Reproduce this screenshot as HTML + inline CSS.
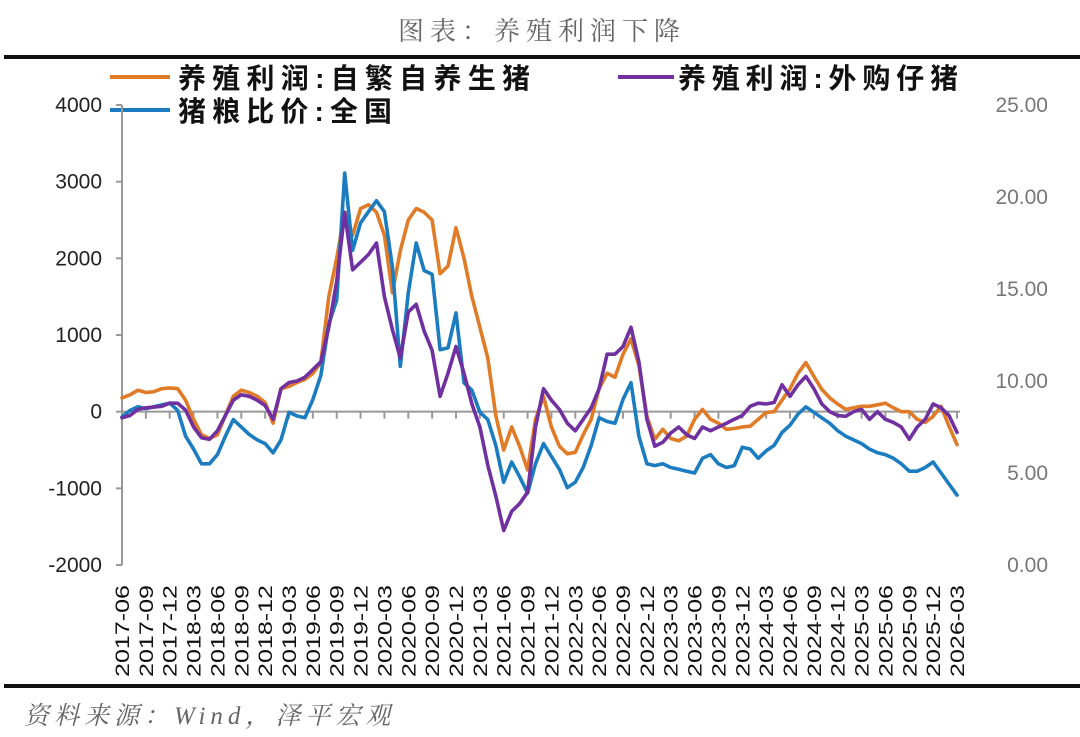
<!DOCTYPE html>
<html><head><meta charset="utf-8">
<style>
body{margin:0;background:#fff;}
svg{display:block;}
</style></head>
<body>
<svg id="chart" width="1080" height="737" viewBox="0 0 1080 737" xmlns="http://www.w3.org/2000/svg" font-family="'Liberation Sans','Noto Sans CJK SC',sans-serif">
<text x="542" y="40" text-anchor="middle" font-size="26" fill="#666" font-family="'Liberation Serif','Noto Serif CJK SC',serif" letter-spacing="6">图表：养殖利润下降</text>
<rect x="4" y="55" width="1076" height="4" fill="#111"/>
<rect x="4" y="684" width="1076" height="4" fill="#111"/>
<text x="24" y="724" font-size="25" fill="#666" font-style="italic" font-family="'Liberation Serif','Noto Serif CJK SC',serif" letter-spacing="5">资料来源：Wind，泽平宏观</text>
<g>
<line x1="110" y1="77" x2="170" y2="77" stroke="#E07B28" stroke-width="4"/>
<text x="178" y="88" font-size="28" font-weight="bold" fill="#111" textLength="352" lengthAdjust="spacing">养殖利润:自繁自养生猪</text>
<line x1="618" y1="77" x2="674" y2="77" stroke="#7030A0" stroke-width="4"/>
<text x="678" y="88" font-size="28" font-weight="bold" fill="#111" textLength="280" lengthAdjust="spacing">养殖利润:外购仔猪</text>
<line x1="110" y1="110" x2="170" y2="110" stroke="#1B7CC0" stroke-width="4"/>
<text x="178" y="121" font-size="28" font-weight="bold" fill="#111" textLength="214" lengthAdjust="spacing">猪粮比价:全国</text>
</g>
<g id="axes"></g>
<g id="series"></g>
</svg>
<script>
const startYear = 2017, startMonth = 6, nMonths = 106;
const leftTicks = [4000, 3000, 2000, 1000, 0, -1000, -2000];
const rightTicks = ["25.00", "20.00", "15.00", "10.00", "5.00", "0.00"];
const selfBred = [
180,220,280,250,260,300,310,
300,150,-100,-300,-350,-300,-50,200,280,250,200,120,
-150,300,330,380,420,500,640,1500,2000,2600,2300,2650,
2700,2600,2300,1550,2100,2500,2650,2600,2500,1800,1900,2400,
2000,1500,1100,700,-50,-500,-200,-450,-760,-100,200,-200,
-450,-550,-530,-300,-100,300,500,450,750,950,600,-60,
-360,-230,-350,-380,-320,-100,30,-100,-150,-230,-220,-200,
-190,-100,-10,0,150,300,500,640,460,290,180,100,
30,50,70,70,90,110,50,0,0,-100,-140,-60,
70,-190,-430];
const purchased = [
-80,-50,30,50,60,70,110,
110,20,-200,-340,-360,-250,-50,150,220,200,150,80,
-100,300,380,400,450,550,650,1100,1700,2600,1850,1950,
2050,2200,1500,1070,700,1300,1400,1050,800,200,500,850,
500,100,-200,-700,-1100,-1550,-1300,-1200,-1050,-200,300,150,
30,-150,-250,-100,50,300,750,750,850,1100,650,-100,
-450,-400,-280,-200,-300,-350,-200,-250,-200,-150,-100,-50,
70,110,100,120,350,200,350,460,300,100,0,-50,
-60,0,30,-100,0,-100,-140,-200,-360,-200,-100,100,
50,-50,-270];
const hogGrain = [
8.05,8.4,8.6,8.5,8.6,8.7,8.8,
8.4,7.0,6.3,5.5,5.5,6.0,7.0,7.9,7.5,7.1,6.8,6.6,
6.1,6.8,8.3,8.1,8.0,9.0,10.3,13.1,14.4,21.3,17.1,18.6,
19.2,19.8,19.2,16.2,10.8,14.8,17.5,16.0,15.8,11.7,11.8,13.7,
9.9,9.5,8.3,7.9,6.5,4.5,5.6,4.8,3.9,5.5,6.6,5.9,
5.2,4.2,4.5,5.3,6.5,8.0,7.8,7.7,9.0,9.9,7.0,5.5,
5.4,5.5,5.3,5.2,5.1,5.0,5.8,6.0,5.5,5.3,5.4,6.4,
6.3,5.8,6.2,6.5,7.2,7.6,8.2,8.6,8.3,8.0,7.7,7.3,
7.0,6.8,6.6,6.3,6.1,6.0,5.8,5.5,5.1,5.1,5.3,5.6,
5.0,4.4,3.8];

const NS = "http://www.w3.org/2000/svg";
const X0 = 122, X1 = 957, YT = 105, YB = 565;
const xScale = i => X0 + i * (X1 - X0) / (nMonths - 1);
const yLeft = v => YB - (v + 2000) / 6000 * (YB - YT);
const yRight = v => YB - v / 25 * (YB - YT);
function mk(tag, attrs, parent){const e=document.createElementNS(NS,tag);for(const k in attrs)e.setAttribute(k,attrs[k]);parent.appendChild(e);return e;}
const axes = document.getElementById('axes');
const series = document.getElementById('series');

let el = mk('line',{x1:X0,y1:YT,x2:X0,y2:YB,stroke:'#999','stroke-width':2},axes);


leftTicks.forEach(v=>{
  const y=yLeft(v);
  const t=mk('line',{x1:X0-6,y1:y,x2:X0,y2:y,stroke:'#999','stroke-width':2},axes);
  
  
  const l=mk('text',{x:102,y:y+7,'text-anchor':'end','font-size':21,fill:'#222'},axes);
  l.textContent=v;
  
  
});
rightTicks.forEach(s=>{
  const y=yRight(parseFloat(s));
  const l=mk('text',{x:1048,y:y+7,'text-anchor':'end','font-size':21,fill:'#777'},axes);
  l.textContent=s;
  
  
});
const y0=yLeft(0);
el = mk('line',{x1:X0,y1:y0,x2:960,y2:y0,stroke:'#999','stroke-width':2},axes);


for(let i=0;i<nMonths;i+=3){
  const x=xScale(i);
  const t=mk('line',{x1:x,y1:y0,x2:x,y2:y0+7,stroke:'#999','stroke-width':2},axes);
  
  
  const m=startMonth-1+i, yr=startYear+Math.floor(m/12), mo=(m%12)+1;
  const lab=yr+'-'+(mo<10?'0':'')+mo;
  const tx=mk('text',{x:0,y:0,transform:`translate(${x+7},677) rotate(-90)`,'font-size':19,fill:'#111',textLength:92,lengthAdjust:'spacingAndGlyphs'},axes);
  tx.textContent=lab;
  
  
}
function drawLine(arr, yf, color, name){
  const d=arr.map((v,i)=>(i?'L':'M')+xScale(i).toFixed(1)+','+yf(v).toFixed(1)).join(' ');
  const p=mk('path',{d:d,fill:'none',stroke:color,'stroke-width':3.6,'stroke-linejoin':'round','stroke-linecap':'round'},series);
  
  
}
drawLine(selfBred, yLeft, '#E07B28', 'self-bred-profit-line');
drawLine(hogGrain, yRight, '#1B7CC0', 'hog-grain-ratio-line');
drawLine(purchased, yLeft, '#7030A0', 'purchased-piglet-profit-line');
</script>
</body></html>
